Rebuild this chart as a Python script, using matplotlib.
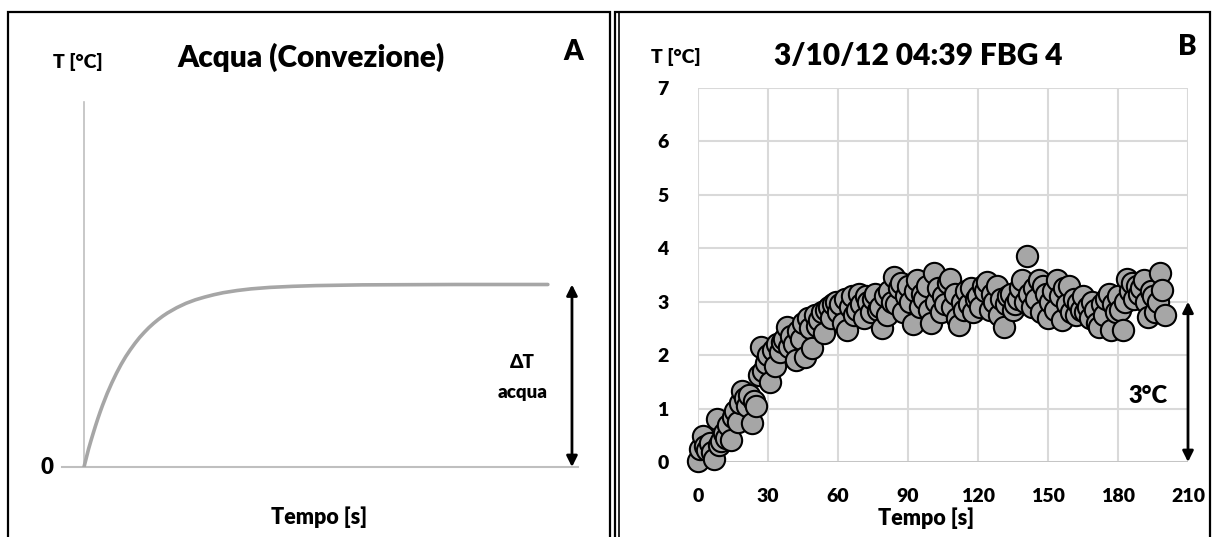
import matplotlib
matplotlib.use("Agg")
import matplotlib.pyplot as plt
from matplotlib.patches import Rectangle
from matplotlib.lines import Line2D

plt.rcParams['font.family'] = ['Lato', 'DejaVu Sans']
plt.rcParams['font.weight'] = 'heavy'

# --- Pannello A: curva teorica ---
curva_t = [0, 0.5, 1, 1.5, 2, 2.5, 3, 3.5, 4, 5, 6, 7, 8, 9, 10, 11, 12, 13,
           14, 15, 16, 17, 18, 20, 22, 24, 26, 28, 30, 33, 36, 40, 45, 50,
           60, 70, 80, 90, 100]
curva_T = [0.0, 0.05, 0.10, 0.144, 0.186, 0.227, 0.266, 0.303, 0.338, 0.403,
           0.461, 0.514, 0.562, 0.605, 0.643, 0.678, 0.710, 0.738, 0.764,
           0.787, 0.808, 0.827, 0.844, 0.873, 0.897, 0.916, 0.931, 0.944,
           0.955, 0.967, 0.976, 0.984, 0.99, 0.994, 0.998, 0.999, 1.0, 1.0,
           1.0]

# --- Pannello B: misure FBG 4 (un punto al secondo) ---
tempo_s = list(range(0, 201))
temp_c = [
    0.02, 0.25, 0.48, 0.30, 0.22, 0.35, 0.18, 0.05, 0.80, 0.32,
    0.40, 0.55, 0.45, 0.70, 0.42, 0.85, 0.95, 0.75, 1.10, 1.32,
    1.20, 1.05, 1.25, 0.73, 1.15, 1.04, 1.63, 2.16, 1.70, 1.85,
    2.00, 1.50, 2.10, 1.80, 2.20, 2.05, 2.25, 2.30, 2.53, 2.15,
    2.35, 2.20, 1.90, 2.45, 2.30, 2.60, 1.97, 2.70, 2.50, 2.13,
    2.75, 2.55, 2.65, 2.80, 2.41, 2.85, 2.90, 2.70, 2.95, 3.00,
    2.80, 2.95, 2.60, 3.05, 2.47, 2.90, 3.10, 2.75, 2.85, 3.15,
    2.95, 2.70, 3.10, 3.00, 2.80, 3.05, 3.15, 2.85, 2.90, 2.50,
    3.10, 2.75, 3.20, 3.00, 3.47, 2.95, 3.25, 3.35, 2.81, 3.10,
    3.30, 3.00, 2.58, 3.20, 3.40, 2.90, 3.15, 3.05, 3.30, 2.85,
    2.60, 3.53, 3.00, 3.25, 2.80, 3.10, 2.95, 3.35, 3.43, 2.90,
    3.15, 2.70, 2.56, 3.00, 2.85, 3.20, 2.95, 3.25, 2.80, 3.05,
    3.10, 2.90, 3.30, 3.20, 3.37, 2.85, 3.15, 3.00, 3.30, 2.75,
    3.05, 2.53, 2.95, 3.10, 3.15, 2.85, 2.95, 3.05, 3.25, 3.40,
    3.00, 3.85, 3.15, 2.90, 3.25, 3.05, 3.40, 2.80, 3.30, 3.15,
    2.69, 3.00, 3.20, 2.85, 3.40, 3.10, 2.66, 3.25, 2.95, 3.30,
    2.80, 3.05, 2.75, 2.97, 2.85, 3.10, 2.80, 2.90, 2.70, 3.00,
    2.85, 2.60, 2.53, 2.95, 2.75, 3.05, 3.15, 2.47, 2.95, 2.80,
    3.10, 2.85, 2.47, 3.00, 3.43, 3.20, 3.35, 3.05, 3.30, 3.15,
    3.25, 3.40, 3.00, 2.72, 3.20, 3.10, 2.80, 3.00, 3.53, 3.22,
    2.75,
]
xticks_b = [0, 30, 60, 90, 120, 150, 180, 210]
yticks_b = [0, 1, 2, 3, 4, 5, 6, 7]

W, H = 1217, 537
fig = plt.figure(figsize=(W / 100, H / 100), dpi=100)


def fx(px):
    return px / W


def fy(py):
    return 1 - py / H


# cornici dei due riquadri (senza bordo inferiore)
for x0, x1 in [(8, 610), (615, 1210)]:
    fig.add_artist(Rectangle((fx(x0), -0.1), fx(x1) - fx(x0), fy(12) + 0.1,
                             transform=fig.transFigure, fill=False,
                             edgecolor='black', linewidth=1.6))
fig.add_artist(Line2D([fx(619), fx(619)], [0, fy(12)], transform=fig.transFigure,
                      color='black', linewidth=1.2))

# ---------------- Pannello A ----------------
axA = fig.add_axes([fx(62), fy(467), fx(578) - fx(62), fy(102) - fy(467)])
axA.set_xlim(-4.74, 106.5)
axA.set_ylim(0, 2)
axA.axis('off')
axA.plot([-4.74, 106.5], [0, 0], color='#BFBFBF', lw=1.5, clip_on=False)
axA.plot([0, 0], [0, 2], color='#BFBFBF', lw=1.2, clip_on=False)
axA.plot(curva_t, curva_T, color='#A6A6A6', lw=2.6, solid_capstyle='round',
         solid_joinstyle='round')
axA.annotate('', xy=(105.2, 1.0), xytext=(105.2, 0.0),
             arrowprops=dict(arrowstyle='<|-|>', color='black', lw=2.0,
                             mutation_scale=16, shrinkA=0, shrinkB=0),
             annotation_clip=False)
axA.text(94.6, 0.575, 'ΔT', ha='center', va='center', fontsize=13.5)
axA.text(94.6, 0.41, 'acqua', ha='center', va='center', fontsize=13.5)

fig.text(fx(78), fy(62), 'T [°C]', ha='center', va='center', fontsize=14)
fig.text(fx(311), fy(57), 'Acqua (Convezione)', ha='center', va='center', fontsize=21.5)
fig.text(fx(573), fy(52), 'A', ha='center', va='center', fontsize=20)
fig.text(fx(47), fy(468), '0', ha='center', va='center', fontsize=16)
fig.text(fx(319), fy(517), 'Tempo [s]', ha='center', va='center', fontsize=15.5)

# ---------------- Pannello B ----------------
axB = fig.add_axes([fx(698), fy(462), fx(1188) - fx(698), fy(88) - fy(462)])
axB.set_xlim(0, 210)
axB.set_ylim(0, 7)
axB.set_xticks(xticks_b)
axB.set_yticks(yticks_b)
for s in axB.spines.values():
    s.set_visible(False)
axB.grid(True, color='#D9D9D9', lw=1.5)
axB.set_axisbelow(True)
axB.axhline(0, color='#BFBFBF', lw=1.8, zorder=1)
axB.tick_params(length=0, labelsize=14, pad=19)
axB.tick_params(axis='y', pad=21)
axB.scatter(tempo_s, temp_c, s=235, facecolor='#A6A6A6', edgecolor='black',
            linewidth=1.5, zorder=3, clip_on=False)
axB.annotate('', xy=(210, 3.0), xytext=(210, 0.0),
             arrowprops=dict(arrowstyle='<|-|>', color='black', lw=2.0,
                             mutation_scale=16, shrinkA=0, shrinkB=0),
             annotation_clip=False, zorder=4)
axB.text(193, 1.23, '3°C', ha='center', va='center', fontsize=17)

fig.text(fx(676), fy(57), 'T [°C]', ha='center', va='center', fontsize=14)
fig.text(fx(918), fy(56), '3/10/12 04:39 FBG 4', ha='center', va='center', fontsize=21.5)
fig.text(fx(1187), fy(47), 'B', ha='center', va='center', fontsize=20)
fig.text(fx(926), fy(518), 'Tempo [s]', ha='center', va='center', fontsize=15.5)

fig.savefig('out.png', dpi=100)
